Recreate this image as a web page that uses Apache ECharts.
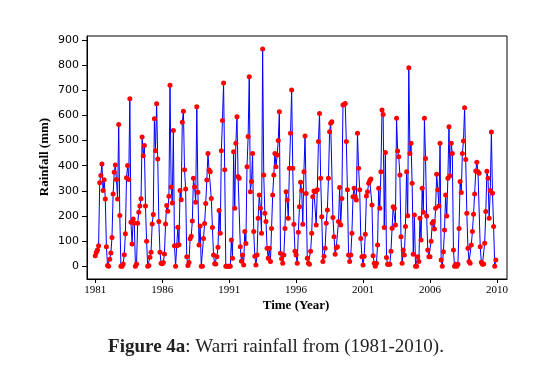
<!DOCTYPE html>
<html><head><meta charset="utf-8">
<script src="https://cdn.jsdelivr.net/npm/echarts@6/dist/echarts.min.js"></script>
<style>html,body{margin:0;padding:0;background:#fff}#c{width:553px;height:386px}</style>
</head><body><div id="c"></div>
<script>
// Monthly rainfall (mm), Jan..Dec
const y1981 = [42, 56, 65, 82, 332, 361, 407, 301, 344, 268, 78, 3];
const y1982 = [0, 28, 53, 115, 288, 374, 403, 345, 268, 564, 202, 0];
const y1983 = [0, 9, 46, 129, 352, 401, 345, 666, 175, 89, 188, 171];
const y1984 = [0, 9, 171, 215, 240, 269, 514, 440, 480, 240, 100, 0];
const y1985 = [3, 36, 56, 168, 206, 587, 460, 647, 427, 178, 56, 12];
const y1986 = [10, 15, 49, 168, 242, 219, 279, 720, 315, 252, 540, 82];
const y1987 = [0, 82, 155, 86, 301, 265, 573, 617, 384, 307, 38, 3];
const y1988 = [15, 110, 120, 180, 350, 315, 255, 635, 295, 85, 160, 0];
const y1989 = [0, 111, 170, 250, 343, 449, 383, 376, 270, 154, 45, 10];
const y1990 = [9, 38, 76, 222, 131, 460, 580, 729, 384, 0, 0, 0];
const y1991 = [0, 0, 105, 32, 456, 231, 489, 595, 357, 350, 78, 20];
const y1992 = [45, 5, 138, 91, 396, 516, 754, 297, 337, 449, 138, 40];
const y1993 = [5, 45, 191, 284, 231, 131, 864, 363, 211, 178, 72, 32];
const y1994 = [72, 19, 150, 284, 363, 449, 396, 443, 500, 615, 52, 30];
const y1995 = [12, 45, 150, 297, 264, 191, 390, 529, 701, 390, 167, 60];
const y1996 = [45, 12, 135, 237, 334, 301, 167, 376, 518, 290, 32, 12];
const y1997 = [8, 60, 131, 277, 300, 297, 164, 304, 496, 608, 350, 197];
const y1998 = [19, 40, 72, 171, 224, 350, 535, 569, 575, 194, 118, 48];
const y1999 = [74, 78, 178, 313, 164, 270, 642, 644, 648, 496, 304, 45];
const y2000 = [19, 45, 131, 277, 310, 277, 264, 529, 390, 304, 111, 38];
const y2001 = [5, 40, 127, 280, 297, 330, 340, 347, 244, 42, 12, 0];
const y2002 = [12, 85, 310, 231, 376, 622, 604, 154, 453, 35, 8, 8];
const y2003 = [8, 60, 151, 237, 231, 164, 589, 459, 436, 363, 118, 12];
const y2004 = [65, 45, 158, 376, 201, 790, 449, 489, 330, 48, 204, 0];
const y2005 = [0, 38, 19, 191, 105, 310, 215, 589, 429, 200, 65, 38];
const y2006 = [38, 100, 171, 178, 148, 231, 366, 304, 240, 489, 25, 0];
const y2007 = [58, 144, 284, 200, 350, 555, 360, 489, 449, 65, 0, 8];
const y2008 = [0, 8, 150, 337, 294, 449, 498, 631, 425, 211, 72, 19];
const y2009 = [12, 85, 138, 207, 288, 379, 414, 376, 370, 78, 16, 8];
const y2010 = [9, 92, 218, 378, 350, 191, 301, 534, 291, 158, 0, 25];

const years = [y1981,y1982,y1983,y1984,y1985,y1986,y1987,y1988,y1989,y1990,
               y1991,y1992,y1993,y1994,y1995,y1996,y1997,y1998,y1999,y2000,
               y2001,y2002,y2003,y2004,y2005,y2006,y2007,y2008,y2009,y2010];

const xTickLabels = ['1981','1986','1991','1996','2001','2006','2010'];
const xTickMonths = [0, 60, 120, 180, 240, 300, 360];
const yTicks = [0, 100, 200, 300, 400, 500, 600, 700, 800, 900];

const data = [];
years.forEach((arr, yi) => arr.forEach((v, mi) => data.push([yi * 12 + mi, v])));

const chart = echarts.init(document.getElementById('c'), null, {renderer: 'canvas'});
chart.setOption({
  animation: false,
  backgroundColor: '#ffffff',
  grid: {left: 87, right: 46, top: 36, bottom: 107, show: true, borderColor: '#000', borderWidth: 1, backgroundColor: 'transparent'},
  xAxis: {
    type: 'value', min: -7.4, max: 369,
    splitLine: {show: false},
    axisLine: {show: true, onZero: false, lineStyle: {color: '#000', width: 1}},
    axisTick: {show: true, length: 4, lineStyle: {color: '#000'}, customValues: xTickMonths},
    axisLabel: {customValues: xTickMonths, margin: 6, color: '#000', fontFamily: 'Liberation Serif', fontSize: 11,
      formatter: v => { const i = xTickMonths.indexOf(Math.round(v)); return i >= 0 ? xTickLabels[i] : ''; }}
  },
  yAxis: {
    type: 'value', min: -50.5, max: 916,
    splitLine: {show: false},
    axisLine: {show: true, onZero: false, lineStyle: {color: '#000', width: 1}},
    axisTick: {show: true, length: 5, lineStyle: {color: '#000'}, customValues: yTicks},
    axisLabel: {customValues: yTicks, margin: 8, color: '#000', fontFamily: 'DejaVu Sans', fontSize: 11}
  },
  series: [{
    type: 'line', data: data,
    lineStyle: {color: '#0000ff', width: 1},
    itemStyle: {color: '#ff0000'},
    symbol: 'circle', symbolSize: 5, showSymbol: true
  }],
  graphic: [
    {type: 'text', x: 296, y: 306, style: {text: 'Time (Year)', font: 'bold 13px "Liberation Serif"', fill: '#000', align: 'center', verticalAlign: 'middle'}},
    {type: 'text', x: 45, y: 157, rotation: Math.PI / 2, style: {text: 'Rainfall (mm)', font: 'bold 13px "Liberation Serif"', fill: '#000', align: 'center', verticalAlign: 'middle'}},
    {type: 'text', x: 276, y: 347, style: {rich: {b: {font: 'bold 19px "Liberation Serif"', fill: '#222'}, n: {font: '19px "Liberation Serif"', fill: '#222'}}, text: '{b|Figure 4a}{n|: Warri rainfall from (1981-2010).}', align: 'center', verticalAlign: 'middle'}}
  ]
});
</script></body></html>
